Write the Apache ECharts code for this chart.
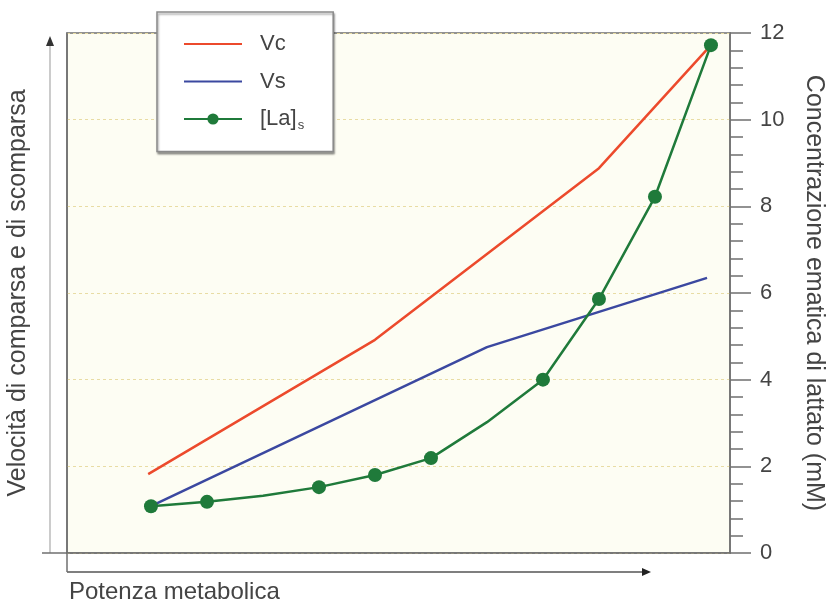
<!DOCTYPE html>
<html>
<head>
<meta charset="utf-8">
<script src="https://cdn.jsdelivr.net/npm/echarts@6/dist/echarts.min.js"></script>
<style>
  html, body { margin: 0; padding: 0; background: #ffffff; }
  #chart { width: 828px; height: 606px; }
</style>
</head>
<body>
<div id="chart"></div>
<script>
// ---- data (x = step of metabolic power, y = value on right scale) ----
const laX = [0, 1, 2, 3, 4, 5, 6, 7, 8, 9, 10];
const laY = [1.08, 1.18, 1.32, 1.52, 1.80, 2.19, 3.02, 4.0, 5.86, 8.22, 11.72];
const laMarked = [true, true, false, true, true, true, false, true, true, true, true];

const vcX = [-0.05, 4, 8, 10];
const vcY = [1.82, 4.92, 8.88, 11.72];

const vsX = [0, 6, 9.93];
const vsY = [1.08, 4.75, 6.35];

const rightTicks = [0, 2, 4, 6, 8, 10, 12];

const seriesNames = ['Vc', 'Vs', '[La]s'];
const axisTitles = {
  x: 'Potenza metabolica',
  yLeft: 'Velocità di comparsa e di scomparsa',
  yRight: 'Concentrazione ematica di lattato (mM)'
};

const FONT = 'Liberation Sans, Arial, Helvetica, sans-serif';
const TXT = '#444444';
const AX = '#6f6f6f';

const chart = echarts.init(document.getElementById('chart'), null, { renderer: 'canvas' });

const pairs = (xs, ys) => xs.map((x, i) => [x, ys[i]]);

const option = {
  backgroundColor: '#ffffff',
  animation: false,
  textStyle: { fontFamily: FONT },
  title: {
    text: axisTitles.x,
    left: 64,
    top: 580,
    padding: [0, 5, 0, 5],
    textStyle: { fontSize: 24, fontWeight: 'normal', color: TXT, fontFamily: FONT }
  },
  grid: {
    left: 67, right: 98, top: 33, bottom: 53,
    containLabel: false,
    outerBoundsMode: 'none',
    show: true,
    backgroundColor: '#fdfdf3',
    borderColor: AX,
    borderWidth: 1.5
  },
  legend: {
    data: [
      { name: seriesNames[0], itemStyle: { opacity: 0 } },
      { name: seriesNames[1], itemStyle: { opacity: 0 } },
      { name: seriesNames[2] }
    ],
    orient: 'vertical',
    left: 157, top: 12,
    padding: [21, 29, 20, 26],
    itemWidth: 58,
    itemHeight: 14,
    itemGap: 15.5,
    backgroundColor: '#ffffff',
    borderColor: '#8a8a8a',
    borderWidth: 1.5,
    shadowColor: 'rgba(0,0,0,0.35)',
    shadowBlur: 2,
    shadowOffsetX: 1,
    shadowOffsetY: 2,
    formatter: function (name) {
      if (name === '[La]s') return '{a|[La]}{s|s}';
      return '{a|' + name + '}';
    },
    textStyle: {
      color: TXT,
      fontSize: 22,
      padding: [0, 0, 0, 13],
      rich: {
        a: { fontSize: 22, color: TXT, fontFamily: FONT },
        s: { fontSize: 13, color: TXT, fontFamily: FONT, padding: [12, 0, 0, 1] }
      }
    }
  },
  xAxis: {
    type: 'value',
    min: -1.5,
    max: 10.34,
    axisLine: { show: true, onZero: false, lineStyle: { color: AX, width: 1.5 } },
    axisTick: { show: false },
    axisLabel: { show: false },
    splitLine: { show: false }
  },
  yAxis: [
    {
      type: 'value',
      position: 'right',
      min: 0, max: 12, interval: 2,
      axisLine: { show: true, onZero: false, lineStyle: { color: AX, width: 1.5 } },
      axisTick: { show: true, inside: false, length: 21, lineStyle: { color: AX, width: 1.5 } },
      minorTick: { show: true, splitNumber: 5, length: 13, lineStyle: { color: AX, width: 1.5 } },
      axisLabel: {
        show: true, margin: 30, fontSize: 22, color: TXT, fontFamily: FONT,
        formatter: function (v) { return rightTicks.indexOf(v) >= 0 ? String(v) : ''; }
      },
      splitLine: { show: true, lineStyle: { color: '#e8dca4', type: [3, 3], width: 1 } },
      name: axisTitles.yRight,
      nameLocation: 'middle',
      nameRotate: -90,
      nameGap: 71,
      nameTextStyle: { fontSize: 25, color: TXT, fontFamily: FONT }
    },
    {
      type: 'value',
      position: 'left',
      min: 0, max: 12,
      axisLine: { show: true, onZero: false, lineStyle: { color: AX, width: 1.5 } },
      axisTick: { show: false },
      axisLabel: { show: false },
      splitLine: { show: false },
      name: axisTitles.yLeft,
      nameLocation: 'middle',
      nameRotate: 90,
      nameGap: 36,
      nameTextStyle: { fontSize: 25, color: TXT, fontFamily: FONT }
    }
  ],
  series: [
    {
      name: seriesNames[0],
      type: 'line',
      yAxisIndex: 0,
      data: pairs(vcX, vcY),
      symbol: 'none',
      lineStyle: { color: '#ec4a2c', width: 2.5 },
      itemStyle: { color: '#ec4a2c' },
      z: 3
    },
    {
      name: seriesNames[1],
      type: 'line',
      yAxisIndex: 0,
      data: pairs(vsX, vsY),
      symbol: 'none',
      lineStyle: { color: '#3b48a0', width: 2.5 },
      itemStyle: { color: '#3b48a0' },
      z: 4
    },
    {
      name: seriesNames[2],
      type: 'line',
      yAxisIndex: 0,
      data: laX.map((x, i) => ({
        value: [x, laY[i]],
        symbol: laMarked[i] ? 'circle' : 'none'
      })),
      symbol: 'circle',
      symbolSize: 14,
      showAllSymbol: true,
      lineStyle: { color: '#1f7a3a', width: 2.5 },
      itemStyle: { color: '#1f7a3a' },
      z: 5
    }
  ],
  graphic: [
    // vertical arrow at far left
    { type: 'line', shape: { x1: 50, y1: 553, x2: 50, y2: 44 }, style: { stroke: '#a9a9a9', lineWidth: 1.2 }, silent: true },
    { type: 'polygon', shape: { points: [[50, 36], [46, 46], [54, 46]] }, style: { fill: '#333' }, silent: true },
    // horizontal arrow below
    { type: 'line', shape: { x1: 67, y1: 572, x2: 643, y2: 572 }, style: { stroke: '#555', lineWidth: 1.3 }, silent: true },
    { type: 'polygon', shape: { points: [[651, 572], [642, 568], [642, 576]] }, style: { fill: '#222' }, silent: true },
    // frame extensions
    { type: 'line', shape: { x1: 67, y1: 553, x2: 67, y2: 572 }, style: { stroke: AX, lineWidth: 1.5 }, silent: true },
    { type: 'line', shape: { x1: 42, y1: 553, x2: 67, y2: 553 }, style: { stroke: AX, lineWidth: 1.5 }, silent: true }
  ]
};

chart.setOption(option);
</script>
</body>
</html>
